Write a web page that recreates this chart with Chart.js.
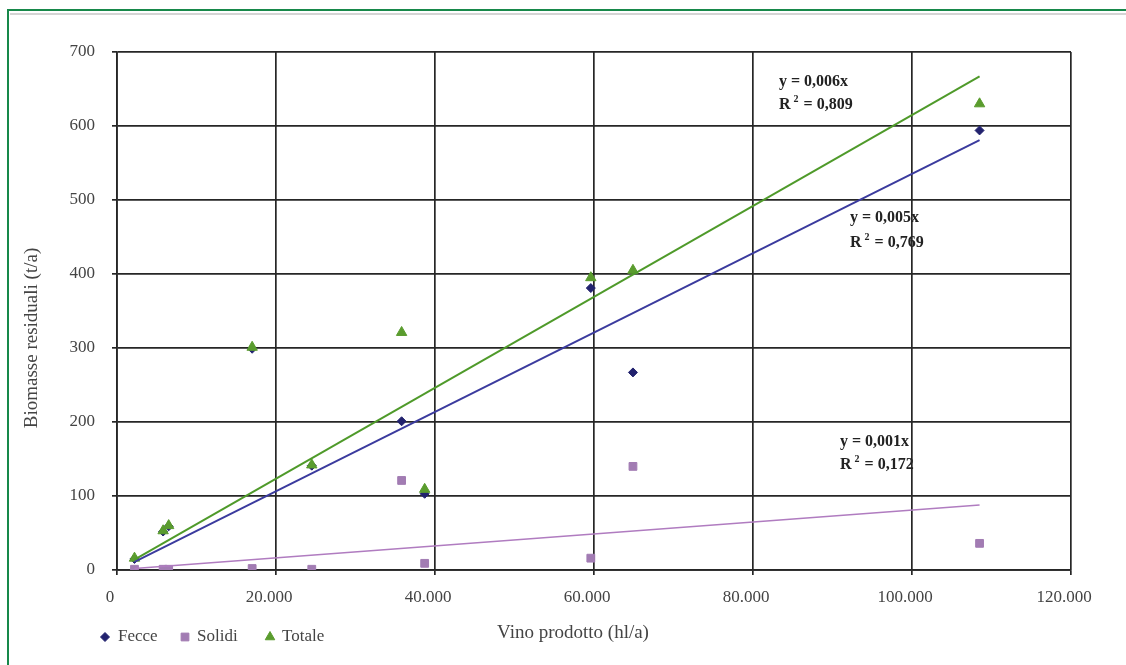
<!DOCTYPE html>
<html>
<head>
<meta charset="utf-8">
<script src="https://cdn.jsdelivr.net/npm/chart.js@4"></script>
<style>
  html,body{margin:0;padding:0;background:#fff;}
  #wrap{position:relative;width:1126px;height:665px;overflow:hidden;background:#fff;}
  #frame{position:absolute;left:7px;top:9px;right:-4px;bottom:-4px;border-left:2px solid #17884a;border-top:2px solid #17884a;}
  #shade{position:absolute;left:10px;top:13px;right:0;height:2px;background:#d4d4d4;}
  canvas{position:absolute;left:0;top:0;}
</style>
</head>
<body>
<div id="wrap">
  <div id="frame"></div>
  <div id="shade"></div>
  <canvas id="c" width="1126" height="665"></canvas>
</div>
<script>
// ---- data ----
const vino   = [2200, 5800, 6500, 17000, 24500, 35800, 38700, 59600, 64900, 108500];
const fecce  = [15, 52, 59, 299, 141, 201, 103, 381, 267, 594];
const solidi = [1, 1, 1, 2, 1, 121, 9, 16, 140, 36];
const totale = [16, 53, 60, 301, 142, 321, 109, 395, 405, 630];

// trendline end points
const trendX       = [2200, 108500];
const trendFecce   = [11, 581];
const trendSolidi  = [2, 88];
const trendTotale  = [14, 667];

const equations = [
  {eq: 'y = 0,006x', r2: '0,809'},
  {eq: 'y = 0,005x', r2: '0,769'},
  {eq: 'y = 0,001x', r2: '0,172'}
];

const xTitle = 'Vino prodotto (hl/a)';
const yTitle = 'Biomasse residuali (t/a)';

const yTicks = [0, 100, 200, 300, 400, 500, 600, 700];
const xTicks = [0, 20000, 40000, 60000, 80000, 100000, 120000];

const C_FECCE = '#22226e', C_FECCE_L = '#3b3b9e';
const C_SOL = '#a27cb3', C_SOL_L = '#b07cc0';
const C_TOT = '#5a9c2e', C_TOT_L = '#4f9a2a';

function pts(xs, ys){ return xs.map((x,i)=>({x:x, y:ys[i]})); }
function fmt(v){ return v===0 ? '0' : String(v).replace(/\B(?=(\d{3})+(?!\d))/g, '.'); }

const FONT = '"Liberation Serif", "DejaVu Serif", serif';

const labelPlugin = {
  id: 'labels',
  afterDatasetsDraw(chart){
    const ctx = chart.ctx;
    ctx.save();
    ctx.fillStyle = '#222';
    ctx.textBaseline = 'middle';
    ctx.textAlign = 'left';
    const pos = [[779, 82, 105], [850, 218, 243], [840, 442, 465]];
    equations.forEach((e, i) => {
      const [x, y1, y2] = pos[i];
      ctx.font = 'bold 16px ' + FONT;
      ctx.fillText(e.eq, x, y1);
      ctx.fillText('R', x, y2);
      const w = ctx.measureText('R').width;
      ctx.font = 'bold 10px ' + FONT;
      ctx.fillText('2', x + w + 3, y2 - 6);
      ctx.font = 'bold 16px ' + FONT;
      ctx.fillText(' = ' + e.r2, x + w + 9, y2);
    });
    ctx.restore();

    // axis titles
    ctx.save();
    ctx.fillStyle = '#444';
    ctx.font = '19px ' + FONT;
    ctx.textAlign = 'center';
    ctx.textBaseline = 'middle';
    ctx.fillText(xTitle, 573, 633);
    ctx.translate(32, 338);
    ctx.rotate(-Math.PI / 2);
    ctx.fillText(yTitle, 0, 0);
    ctx.restore();

    // legend
    const items = [
      {label: 'Fecce', color: C_FECCE, style: 'rectRot', x: 105, tx: 118, r: 4.5},
      {label: 'Solidi', color: C_SOL, style: 'rect', x: 185, tx: 197, r: 5.5},
      {label: 'Totale', color: C_TOT, style: 'triangle', x: 270, tx: 282, r: 5.5}
    ];
    const ly = 637;
    ctx.save();
    items.forEach(it => {
      ctx.fillStyle = it.color; ctx.strokeStyle = it.color; ctx.lineWidth = 1;
      Chart.helpers.drawPoint(ctx, {pointStyle: it.style, radius: it.r, borderWidth: 1, rotation: 0}, it.x, ly);
      ctx.fillStyle = '#444';
      ctx.font = '17px ' + FONT;
      ctx.textBaseline = 'middle';
      ctx.textAlign = 'left';
      ctx.fillText(it.label, it.tx, ly);
    });
    ctx.restore();
  }
};

new Chart(document.getElementById('c'), {
  type: 'scatter',
  data: {
    datasets: [
      {label: 'Lin Totale', type: 'line', data: pts(trendX, trendTotale), borderColor: C_TOT_L, borderWidth: 2, pointRadius: 0, fill: false, order: 0},
      {label: 'Lin Fecce', type: 'line', data: pts(trendX, trendFecce), borderColor: C_FECCE_L, borderWidth: 2, pointRadius: 0, fill: false, order: 0},
      {label: 'Lin Solidi', type: 'line', data: pts(trendX, trendSolidi), borderColor: C_SOL_L, borderWidth: 1.5, pointRadius: 0, fill: false, order: 0},
      {label: 'Totale', data: pts(vino, totale), pointStyle: 'triangle', pointRadius: 6, backgroundColor: C_TOT, borderColor: C_TOT, order: 1},
      {label: 'Fecce', data: pts(vino, fecce), pointStyle: 'rectRot', pointRadius: 4.5, backgroundColor: C_FECCE, borderColor: C_FECCE, order: 2},
      {label: 'Solidi', data: pts(vino, solidi), pointStyle: 'rect', pointRadius: 5.5, backgroundColor: C_SOL, borderColor: C_SOL, order: 3}
    ]
  },
  options: {
    responsive: false,
    animation: false,
    devicePixelRatio: 1,
    layout: {padding: {left: 21, right: 55, top: 52, bottom: 21}},
    plugins: {legend: {display: false}, tooltip: {enabled: false}},
    scales: {
      x: {
        type: 'linear', min: 0, max: 120000,
        afterBuildTicks(s){ s.ticks = xTicks.map(v => ({value: v})); },
        afterFit(s){ s.height = 74; },
        ticks: {callback: v => fmt(v), font: {family: FONT, size: 17}, color: '#444', padding: 12, maxRotation: 0, labelOffset: -7},
        grid: {color: '#262626', lineWidth: 1.7, tickLength: 5, tickColor: '#262626'},
        border: {color: '#262626', width: 1.7},
        title: {display: false}
      },
      y: {
        type: 'linear', min: 0, max: 700,
        afterBuildTicks(s){ s.ticks = yTicks.map(v => ({value: v})); },
        afterFit(s){ s.width = 96; },
        ticks: {font: {family: FONT, size: 17}, color: '#444', padding: 17},
        grid: {color: '#262626', lineWidth: 1.7, tickLength: 5, tickColor: '#262626'},
        border: {color: '#262626', width: 1.7},
        title: {display: false}
      }
    }
  },
  plugins: [labelPlugin]
});
</script>
</body>
</html>
